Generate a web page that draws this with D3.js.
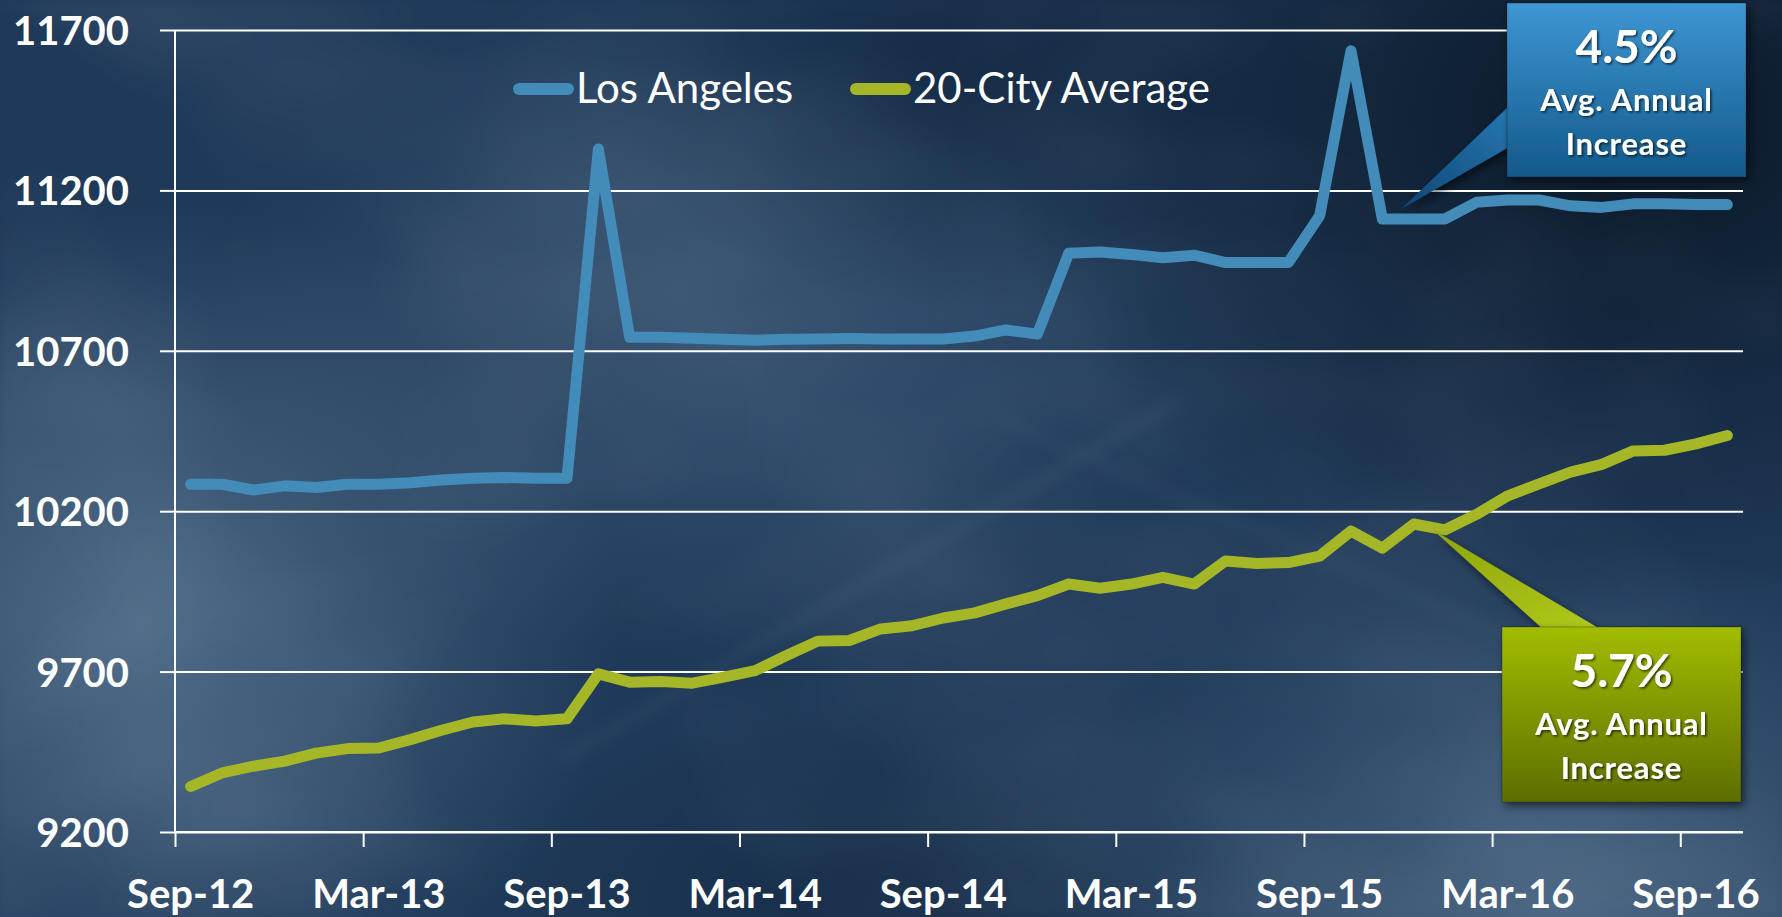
<!DOCTYPE html>
<html>
<head>
<meta charset="utf-8">
<script src="https://cdn.jsdelivr.net/npm/d3@7"></script>
<style>
  body { margin: 0; background: #1e3756; overflow: hidden; }
  svg { display: block; font-family: Lato, "Noto Sans", sans-serif; }
</style>
</head>
<body>
<div id="chart"></div>
<script>
var months = ["Sep-12","Oct-12","Nov-12","Dec-12","Jan-13","Feb-13","Mar-13","Apr-13","May-13","Jun-13",
    "Jul-13","Aug-13","Sep-13","Oct-13","Nov-13","Dec-13","Jan-14","Feb-14","Mar-14","Apr-14",
    "May-14","Jun-14","Jul-14","Aug-14","Sep-14","Oct-14","Nov-14","Dec-14","Jan-15","Feb-15",
    "Mar-15","Apr-15","May-15","Jun-15","Jul-15","Aug-15","Sep-15","Oct-15","Nov-15","Dec-15",
    "Jan-16","Feb-16","Mar-16","Apr-16","May-16","Jun-16","Jul-16","Aug-16","Sep-16","Oct-16"];

var losAngeles = [10284, 10284, 10266, 10279, 10274, 10284, 10284, 10289, 10297, 10303,
    10305, 10303, 10303, 11329, 10742, 10742, 10739, 10736, 10733, 10736,
    10737, 10738, 10737, 10737, 10737, 10746, 10765, 10752, 11004, 11008,
    11000, 10990, 10998, 10975, 10975, 10975, 11121, 11635, 11111, 11111,
    11111, 11163, 11170, 11170, 11152, 11147, 11158, 11158, 11156, 11156];

var cityAverage = [9342, 9384, 9405, 9421, 9446, 9460, 9462, 9488, 9517, 9543,
    9553, 9546, 9553, 9693, 9667, 9669, 9664, 9683, 9703, 9750,
    9795, 9797, 9833, 9843, 9867, 9883, 9911, 9937, 9973, 9960,
    9973, 9994, 9973, 10045, 10037, 10040, 10060, 10138, 10085, 10160,
    10142, 10190, 10248, 10285, 10322, 10346, 10388, 10390, 10410, 10436];

var xTickLabels = ["Sep-12","Mar-13","Sep-13","Mar-14","Sep-14","Mar-15","Sep-15","Mar-16","Sep-16"];
var yTickValues = [9200, 9700, 10200, 10700, 11200, 11700];

var seriesNames = ["Los Angeles", "20-City Average"];
var seriesColors = ["#438cb9", "#a5b626"];

var svgWidth = 1782;
var svgHeight = 917;

var margin = { top: 30, right: 39, bottom: 85, left: 175 };
var width = svgWidth - margin.left - margin.right;
var height = svgHeight - margin.top - margin.bottom;

var svg = d3.select("#chart").append("svg")
    .attr("width", svgWidth)
    .attr("height", svgHeight);

var defs = svg.append("defs");

// background gradients
function radial(id, color, op) {
    var g = defs.append("radialGradient").attr("id", id);
    g.append("stop").attr("offset", "0%").attr("stop-color", color).attr("stop-opacity", op);
    g.append("stop").attr("offset", "100%").attr("stop-color", color).attr("stop-opacity", 0);
}
radial("bgLeft", "#56748f", 0.85);
radial("bgMid", "#4d6a86", 0.6);
radial("bgDark", "#06121f", 0.85);
radial("bgBR", "#587590", 0.75);
radial("bgTop", "#0b1f37", 0.6);
radial("bgBot", "#0f243c", 0.55);

var clouds = defs.append("filter").attr("id", "clouds")
    .attr("x", 0).attr("y", 0).attr("width", "100%").attr("height", "100%");
clouds.append("feTurbulence")
    .attr("type", "fractalNoise")
    .attr("baseFrequency", "0.0025 0.004")
    .attr("numOctaves", 3)
    .attr("seed", 7);
clouds.append("feColorMatrix")
    .attr("values", "0 0 0 0 0.75  0 0 0 0 0.85  0 0 0 0 1  0 0 0 1.2 -0.5");
clouds.append("feGaussianBlur").attr("stdDeviation", 4);

var blur = defs.append("filter").attr("id", "blur")
    .attr("x", "-20%").attr("y", "-20%").attr("width", "140%").attr("height", "140%");
blur.append("feGaussianBlur").attr("stdDeviation", 8);

var textShadow = defs.append("filter").attr("id", "textShadow")
    .attr("x", "-10%").attr("y", "-10%").attr("width", "130%").attr("height", "140%");
textShadow.append("feDropShadow")
    .attr("dx", 1.5).attr("dy", 1.5).attr("stdDeviation", 1.2)
    .attr("flood-color", "#000").attr("flood-opacity", 0.65);

var boxShadow = defs.append("filter").attr("id", "boxShadow")
    .attr("x", "-10%").attr("y", "-10%").attr("width", "130%").attr("height", "130%");
boxShadow.append("feDropShadow")
    .attr("dx", 3).attr("dy", 4).attr("stdDeviation", 4)
    .attr("flood-color", "#000").attr("flood-opacity", 0.55);

function linear(id, top, bottom, x1, y1, x2, y2) {
    var g = defs.append("linearGradient").attr("id", id)
        .attr("x1", x1).attr("y1", y1).attr("x2", x2).attr("y2", y2);
    g.append("stop").attr("offset", "0%").attr("stop-color", top);
    g.append("stop").attr("offset", "100%").attr("stop-color", bottom);
}
linear("blueBox", "#3d96d3", "#14598b", 0, 0, 0, 1);
linear("bluePtr", "#0d4672", "#2777b2", 0, 1, 1, 0);
linear("greenBox", "#a3bc02", "#5e6d00", 0, 0, 0, 1);
linear("greenPtr", "#8ea40a", "#b2c91c", 0, 0, 1, 1);

// Background
var bg = svg.append("g");
bg.append("rect").attr("width", svgWidth).attr("height", svgHeight).attr("fill", "#1f3958");
bg.append("ellipse").attr("cx", 140).attr("cy", 620).attr("rx", 480).attr("ry", 420).attr("fill", "url(#bgLeft)");
bg.append("ellipse").attr("cx", 720).attr("cy", 330).attr("rx", 520).attr("ry", 330).attr("fill", "url(#bgMid)");
bg.append("ellipse").attr("cx", 1640).attr("cy", 120).attr("rx", 650).attr("ry", 480).attr("fill", "url(#bgDark)");
bg.append("ellipse").attr("cx", 1560).attr("cy", 900).attr("rx", 520).attr("ry", 360).attr("fill", "url(#bgBR)");
bg.append("ellipse").attr("cx", 980).attr("cy", 90).attr("rx", 380).attr("ry", 220).attr("fill", "url(#bgTop)");
bg.append("ellipse").attr("cx", 880).attr("cy", 900).attr("rx", 380).attr("ry", 200).attr("fill", "url(#bgBot)");
bg.append("rect").attr("width", svgWidth).attr("height", svgHeight)
    .attr("filter", "url(#clouds)").attr("opacity", 0.16);
// faint light streaks
bg.append("path").attr("d", "M560,760 L1180,400").attr("stroke", "#9fb6cc")
    .attr("stroke-width", 12).attr("opacity", 0.07).attr("filter", "url(#blur)");
bg.append("path").attr("d", "M1000,420 L1520,640").attr("stroke", "#9fb6cc")
    .attr("stroke-width", 10).attr("opacity", 0.06).attr("filter", "url(#blur)");

var chartGroup = svg.append("g")
    .attr("transform", `translate(${margin.left}, ${margin.top})`);

// Scales
var xBand = d3.scaleBand()
    .domain(months)
    .range([0, width])
    .padding(0);

var xIndex = d3.scaleLinear()
    .domain([0, months.length])
    .range([0, width]);

var yLinearScale = d3.scaleLinear()
    .domain([9200, 11700])
    .range([height, 0]);

function xCenter(i) {
    return xBand(months[i]) + xBand.bandwidth() / 2;
}

// Gridlines
chartGroup.append("g")
    .attr("class", "grid")
    .call(d3.axisLeft(yLinearScale).tickValues(yTickValues).tickSize(-width).tickFormat(""))
    .call(g => g.select(".domain").remove())
    .call(g => g.selectAll("line").attr("stroke", "#fff").attr("stroke-width", 2));

// Y axis with labels
chartGroup.append("g")
    .call(d3.axisLeft(yLinearScale).tickValues(yTickValues).tickSize(15).tickPadding(31).tickFormat(d3.format("d")))
    .attr("font-family", null)
    .call(g => g.select(".domain").remove())
    .call(g => g.selectAll("line").attr("stroke", "#fff").attr("stroke-width", 2))
    .call(g => g.selectAll("text")
        .attr("fill", "#fff")
        .attr("font-size", "40px")
        .attr("font-weight", 700)
        .attr("dy", "0.36em"));

// X tick marks at category boundaries
chartGroup.append("g")
    .attr("transform", `translate(0, ${height})`)
    .call(d3.axisBottom(xIndex).tickValues(d3.range(0, months.length, 6)).tickSize(15).tickFormat(""))
    .call(g => g.select(".domain").remove())
    .call(g => g.selectAll("line").attr("stroke", "#fff").attr("stroke-width", 2));

// X labels at category centres
chartGroup.append("g")
    .attr("transform", `translate(0, ${height})`)
    .call(d3.axisBottom(xBand).tickValues(xTickLabels).tickSize(0))
    .attr("font-family", null)
    .call(g => g.select(".domain").remove())
    .call(g => g.selectAll("text")
        .attr("fill", "#fff")
        .attr("font-size", "40px")
        .attr("font-weight", 700)
        .attr("y", 76)
        .attr("dy", 0));

// Axis lines
chartGroup.append("line")
    .attr("x1", xIndex(0)).attr("x2", xIndex(months.length))
    .attr("y1", yLinearScale(9200)).attr("y2", yLinearScale(9200))
    .attr("stroke", "#fff").attr("stroke-width", 2);
chartGroup.append("line")
    .attr("x1", xIndex(0)).attr("x2", xIndex(0))
    .attr("y1", yLinearScale(9200)).attr("y2", yLinearScale(11700))
    .attr("stroke", "#fff").attr("stroke-width", 2);

// Lines
var lineGen = d3.line()
    .x((d, i) => xCenter(i))
    .y(d => yLinearScale(d));

[losAngeles, cityAverage].forEach(function (values, k) {
    chartGroup.append("path")
        .datum(values)
        .attr("fill", "none")
        .attr("stroke", seriesColors[k])
        .attr("stroke-width", 11)
        .attr("stroke-linejoin", "round")
        .attr("stroke-linecap", "round")
        .attr("d", lineGen);
});

// Legend
var legendX = [344, 681];
var legend = chartGroup.append("g").attr("transform", "translate(0, 59)");
seriesNames.forEach(function (name, k) {
    legend.append("line")
        .attr("x1", legendX[k]).attr("x2", legendX[k] + 49)
        .attr("y1", 0).attr("y2", 0)
        .attr("stroke", seriesColors[k])
        .attr("stroke-width", 12)
        .attr("stroke-linecap", "round");
    legend.append("text")
        .attr("x", legendX[k] + 57)
        .attr("y", 14)
        .attr("fill", "#fff")
        .attr("font-size", "42px")
        .text(name);
});

// Callouts
function callout(box, pointer, fillBox, fillPtr, big) {
    var g = svg.append("g");
    g.append("path")
        .attr("d", "M" + pointer.map(p => p.join(",")).join("L") + "Z")
        .attr("fill", fillPtr)
        .attr("filter", "url(#boxShadow)");
    g.append("rect")
        .attr("x", box.x).attr("y", box.y)
        .attr("width", box.w).attr("height", box.h)
        .attr("fill", fillBox)
        .attr("stroke", "rgba(0,0,0,0.25)")
        .attr("stroke-width", 1)
        .attr("filter", "url(#boxShadow)");
    var cx = box.x + box.w / 2;
    var lines = [
        { t: big, size: 46, y: box.y + 60 },
        { t: "Avg. Annual", size: 31, y: box.y + 108 },
        { t: "Increase", size: 31, y: box.y + 152 }
    ];
    lines.forEach(function (l) {
        g.append("text")
            .attr("x", cx).attr("y", l.y)
            .attr("text-anchor", "middle")
            .attr("fill", "#fff")
            .attr("font-size", l.size + "px")
            .attr("font-weight", 700)
            .attr("letter-spacing", l.size > 40 ? 0 : 0.8)
            .attr("filter", "url(#textShadow)")
            .text(l.t);
    });
}

// anchor points on the lines
var bw = xBand.bandwidth();
var blueTip = [margin.left + xCenter(38) + 0.6 * bw, margin.top + yLinearScale(losAngeles[38]) - 10];
var gVal = cityAverage[39] + 0.6 * (cityAverage[40] - cityAverage[39]);
var greenTip = [margin.left + xCenter(39) + 0.6 * bw, margin.top + yLinearScale(gVal) + 2];

var blueBox = { x: 1507, y: 3, w: 239, h: 174 };
callout(blueBox,
    [blueTip, [blueBox.x + 2, 106], [blueBox.x + 2, 147]],
    "url(#blueBox)", "url(#bluePtr)", "4.5%");

var greenBox = { x: 1502, y: 627, w: 239, h: 175 };
callout(greenBox,
    [greenTip, [1543, greenBox.y + 2], [1600, greenBox.y + 2]],
    "url(#greenBox)", "url(#greenPtr)", "5.7%");
</script>
</body>
</html>
